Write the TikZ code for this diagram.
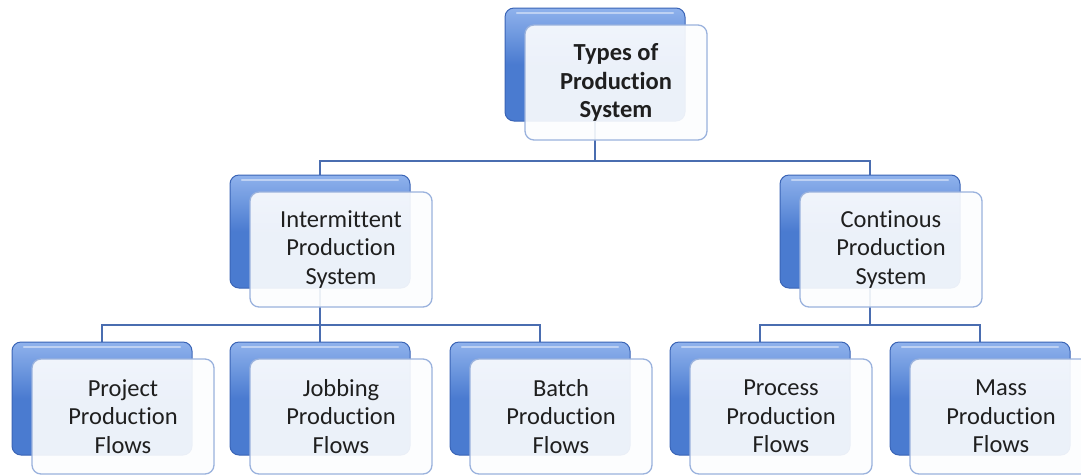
\documentclass[tikz,border=0pt]{standalone}
\usepackage{fontspec}
\setmainfont[Ligatures=NoCommon]{Carlito}
\usetikzlibrary{backgrounds}
\definecolor{boxblue}{HTML}{4A7BD0}
\definecolor{boxbluetop}{HTML}{8FB2EC}
\definecolor{boxedge}{HTML}{3A64B6}
\definecolor{frontedge}{HTML}{9AB2DD}
\definecolor{frontfill}{HTML}{FCFDFE}
\definecolor{linkblue}{HTML}{4A6DB0}
\tikzset{
  backbox/.style={draw=boxedge, line width=1pt, rounded corners=9pt,
    top color=boxbluetop, bottom color=boxblue, middle color=boxblue,
    minimum width=180pt, minimum height=113pt, inner sep=0pt},
  frontbox/.style={draw=frontedge, line width=1.3pt, rounded corners=9pt,
    fill=frontfill, fill opacity=0.91, text opacity=1,
    minimum width=182pt, minimum height=115pt, inner sep=0pt,
    align=center, text=black!88,
    font=\fontsize{24.5}{28.5}\selectfont},
  link/.style={draw=linkblue, line width=1.8pt},
}
% #1 name, #2 left, #3 top of the back panel, #4 label
\newcommand{\prodbox}[4]{%
  \node[backbox] (#1b) at (#2+90, -#3-56.5) {};
  \draw[white, opacity=0.45, line width=2.5pt, line cap=round]
    (#2+12, -#3-5) -- (#2+168, -#3-5);
  \node[frontbox] (#1) at (#2+20+91, -#3-17-57.5) {#4};
}
\begin{document}
\begin{tikzpicture}[x=1pt, y=1pt]
\useasboundingbox (0,0) rectangle (1081,-475);

\prodbox{sys}{505}{8}{\bfseries Types of\\\bfseries Production\\\bfseries System}
\prodbox{inter}{230}{175}{Intermittent\\Production\\System}
\prodbox{cont}{780}{175}{Continous\\Production\\System}
\prodbox{project}{12}{342}{Project\\Production\\Flows}
\prodbox{jobbing}{230}{342}{Jobbing\\Production\\Flows}
\prodbox{batch}{450}{342}{Batch\\Production\\Flows}
\prodbox{process}{670}{342}{Process\\Production\\Flows}
\prodbox{mass}{890}{342}{Mass\\Production\\Flows}

\coordinate (bus1) at (0,-161);
\coordinate (bus2) at (0,-325);

\begin{scope}[on background layer]
  \fill[white] (0,0) rectangle (1081,-475);
  \draw[link] (sysb.center) -- (sysb.center |- bus1) -| (interb.center);
  \draw[link] (sysb.center |- bus1) -| (contb.center);
  \draw[link] (interb.center) -- (interb.center |- bus2) -| (projectb.center);
  \draw[link] (interb.center |- bus2) -| (batchb.center);
  \draw[link] (interb.center |- bus2) -- (jobbingb.center);
  \draw[link] (contb.center) -- (contb.center |- bus2) -| (processb.center);
  \draw[link] (contb.center |- bus2) -| (massb.center);
\end{scope}
\end{tikzpicture}
\end{document}
